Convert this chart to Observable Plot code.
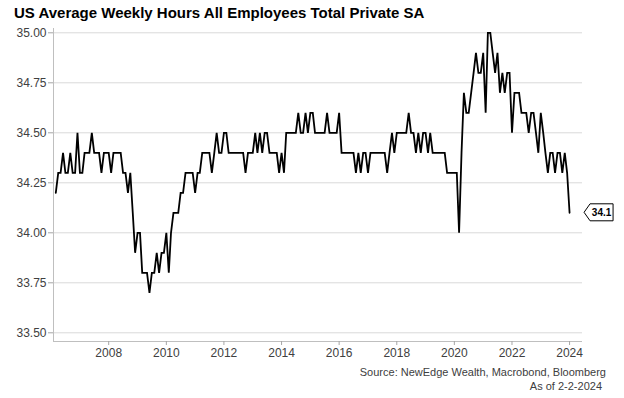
<!DOCTYPE html>
<html>
<head>
<meta charset="utf-8">
<script src="https://cdn.jsdelivr.net/npm/d3@7"></script>
<script src="https://cdn.jsdelivr.net/npm/@observablehq/plot@0.6"></script>
<style>
  html, body { margin: 0; padding: 0; background: #fff; }
  #wrap { position: relative; width: 624px; height: 398px; overflow: hidden; font-family: "Liberation Sans", Arial, sans-serif; }
  #title { position: absolute; left: 14px; top: 4px; font-size: 15px; line-height: 18px; font-weight: bold; color: #000; white-space: nowrap; }
  #chart { position: absolute; left: 0; top: 24px; }
  .cap { position: absolute; font-size: 11px; line-height: 13px; color: #404040; white-space: nowrap; }
</style>
</head>
<body>
<div id="wrap">
  <div id="title"></div>
  <div id="chart"></div>
  <div id="src" class="cap" style="top:366px; right:18px"></div>
  <div id="asof" class="cap" style="top:380px; right:22px"></div>
</div>
<script>
// ---- data (monthly, starting March 2006) ----
const titleText = "US Average Weekly Hours All Employees Total Private SA";
const sourceText = "Source: NewEdge Wealth, Macrobond, Bloomberg";
const asOfText = "As of 2-2-2024";
const startYear = 2006;
const startMonth = 3;
const hours = [
  34.2,34.3,34.3,34.4,34.3,34.3,34.4,34.3,34.3,34.5,                 // 2006 Mar-Dec
  34.3,34.3,34.4,34.4,34.4,34.5,34.4,34.4,34.4,34.3,34.4,34.4,       // 2007
  34.4,34.3,34.4,34.4,34.4,34.4,34.3,34.3,34.2,34.3,34.1,33.9,       // 2008
  34.0,34.0,33.8,33.8,33.8,33.7,33.8,33.8,33.9,33.8,33.9,33.9,       // 2009
  34.0,33.8,34.0,34.1,34.1,34.1,34.2,34.2,34.3,34.3,34.3,34.3,       // 2010
  34.2,34.3,34.3,34.4,34.4,34.4,34.4,34.3,34.4,34.5,34.4,34.4,       // 2011
  34.5,34.5,34.4,34.4,34.4,34.4,34.4,34.4,34.4,34.3,34.4,34.4,       // 2012
  34.4,34.5,34.4,34.5,34.4,34.5,34.5,34.4,34.4,34.4,34.4,34.3,       // 2013
  34.4,34.3,34.5,34.5,34.5,34.5,34.5,34.6,34.5,34.5,34.6,34.5,       // 2014
  34.6,34.6,34.5,34.5,34.5,34.5,34.5,34.6,34.5,34.5,34.5,34.5,       // 2015
  34.6,34.4,34.4,34.4,34.4,34.4,34.4,34.3,34.4,34.3,34.4,34.4,       // 2016
  34.3,34.4,34.4,34.4,34.4,34.4,34.4,34.4,34.3,34.4,34.5,34.4,       // 2017
  34.5,34.5,34.5,34.5,34.5,34.6,34.5,34.5,34.4,34.5,34.4,34.5,       // 2018
  34.5,34.4,34.5,34.4,34.4,34.4,34.4,34.4,34.4,34.3,34.3,34.3,       // 2019
  34.3,34.3,34.0,34.4,34.7,34.6,34.6,34.7,34.8,34.9,34.8,34.8,       // 2020
  34.9,34.6,35.0,35.0,34.9,34.8,34.9,34.7,34.8,34.7,34.8,34.8,       // 2021
  34.5,34.7,34.7,34.7,34.6,34.6,34.6,34.5,34.6,34.6,34.5,34.4,       // 2022
  34.6,34.5,34.4,34.3,34.4,34.4,34.3,34.4,34.4,34.3,34.4,34.3,       // 2023
  34.1                                                               // 2024 Jan
];
const yTicks = [33.5, 33.75, 34.0, 34.25, 34.5, 34.75, 35.0];
const xTickYears = [2008, 2010, 2012, 2014, 2016, 2018, 2020, 2022, 2024];
const xDomain = [new Date(Date.UTC(2006, 0, 31)), new Date(Date.UTC(2024, 5, 13))];
const yDomain = [33.4565, 35.0215];

// ---- build table ----
const data = hours.map((v, i) => ({ date: new Date(Date.UTC(startYear, startMonth - 1 + i, 1)), value: v }));
const last = data[data.length - 1];

document.getElementById("title").textContent = titleText;
document.getElementById("src").textContent = sourceText;
document.getElementById("asof").textContent = asOfText;

const plot = Plot.plot({
  width: 624,
  height: 340,
  marginLeft: 53,
  marginRight: 42,
  marginTop: 4,
  marginBottom: 23,
  style: { fontFamily: "'Liberation Sans', Arial, sans-serif", fontSize: "12px", color: "#404040", background: "transparent", overflow: "visible" },
  x: { type: "utc", domain: xDomain, label: null },
  y: { domain: yDomain, label: null },
  marks: [
    Plot.gridY(yTicks, { stroke: "#d9d9d9", strokeOpacity: 1, strokeWidth: 1 }),
    Plot.ruleX([xDomain[0]], { stroke: "#bfbfbf", strokeWidth: 1 }),
    Plot.ruleY([yDomain[0]], { stroke: "#bfbfbf", strokeWidth: 1 }),
    Plot.axisY(yTicks, { tickFormat: d3.format(".2f"), tickSize: 5, tickPadding: 2, stroke: "#a6a6a6", fill: "#404040", fontSize: 12, label: null }),
    Plot.axisX(xTickYears.map(y => new Date(Date.UTC(y, 0, 1))), { tickFormat: d3.utcFormat("%Y"), tickSize: 4, tickPadding: 3, stroke: "#a6a6a6", fill: "#404040", fontSize: 12, label: null }),
    Plot.line(data, { x: "date", y: "value", stroke: "#000", strokeWidth: 1.8, strokeLinejoin: "miter", strokeMiterlimit: 4 })
  ]
});
document.getElementById("chart").appendChild(plot);

// ---- end-value tag, positioned with the plot's own scales ----
const sx = plot.scale("x"), sy = plot.scale("y");
const px = sx.apply(last.date), py = sy.apply(last.value);
const svg = d3.select(plot);
const tip = px + 15, h = 8.5, w = 29;
svg.append("path")
  .attr("d", `M${tip},${py} L${tip + 6},${py - h} L${tip + w},${py - h} L${tip + w},${py + h} L${tip + 6},${py + h} Z`)
  .attr("fill", "#fff").attr("stroke", "#000").attr("stroke-width", 1);
svg.append("text")
  .attr("x", tip + 6 + (w - 6) / 2).attr("y", py).attr("dy", "0.35em")
  .attr("text-anchor", "middle")
  .attr("font-family", "'Liberation Sans', Arial, sans-serif")
  .attr("font-size", 10).attr("font-weight", "bold").attr("fill", "#000")
  .text(d3.format(".1f")(last.value));
</script>
</body>
</html>
